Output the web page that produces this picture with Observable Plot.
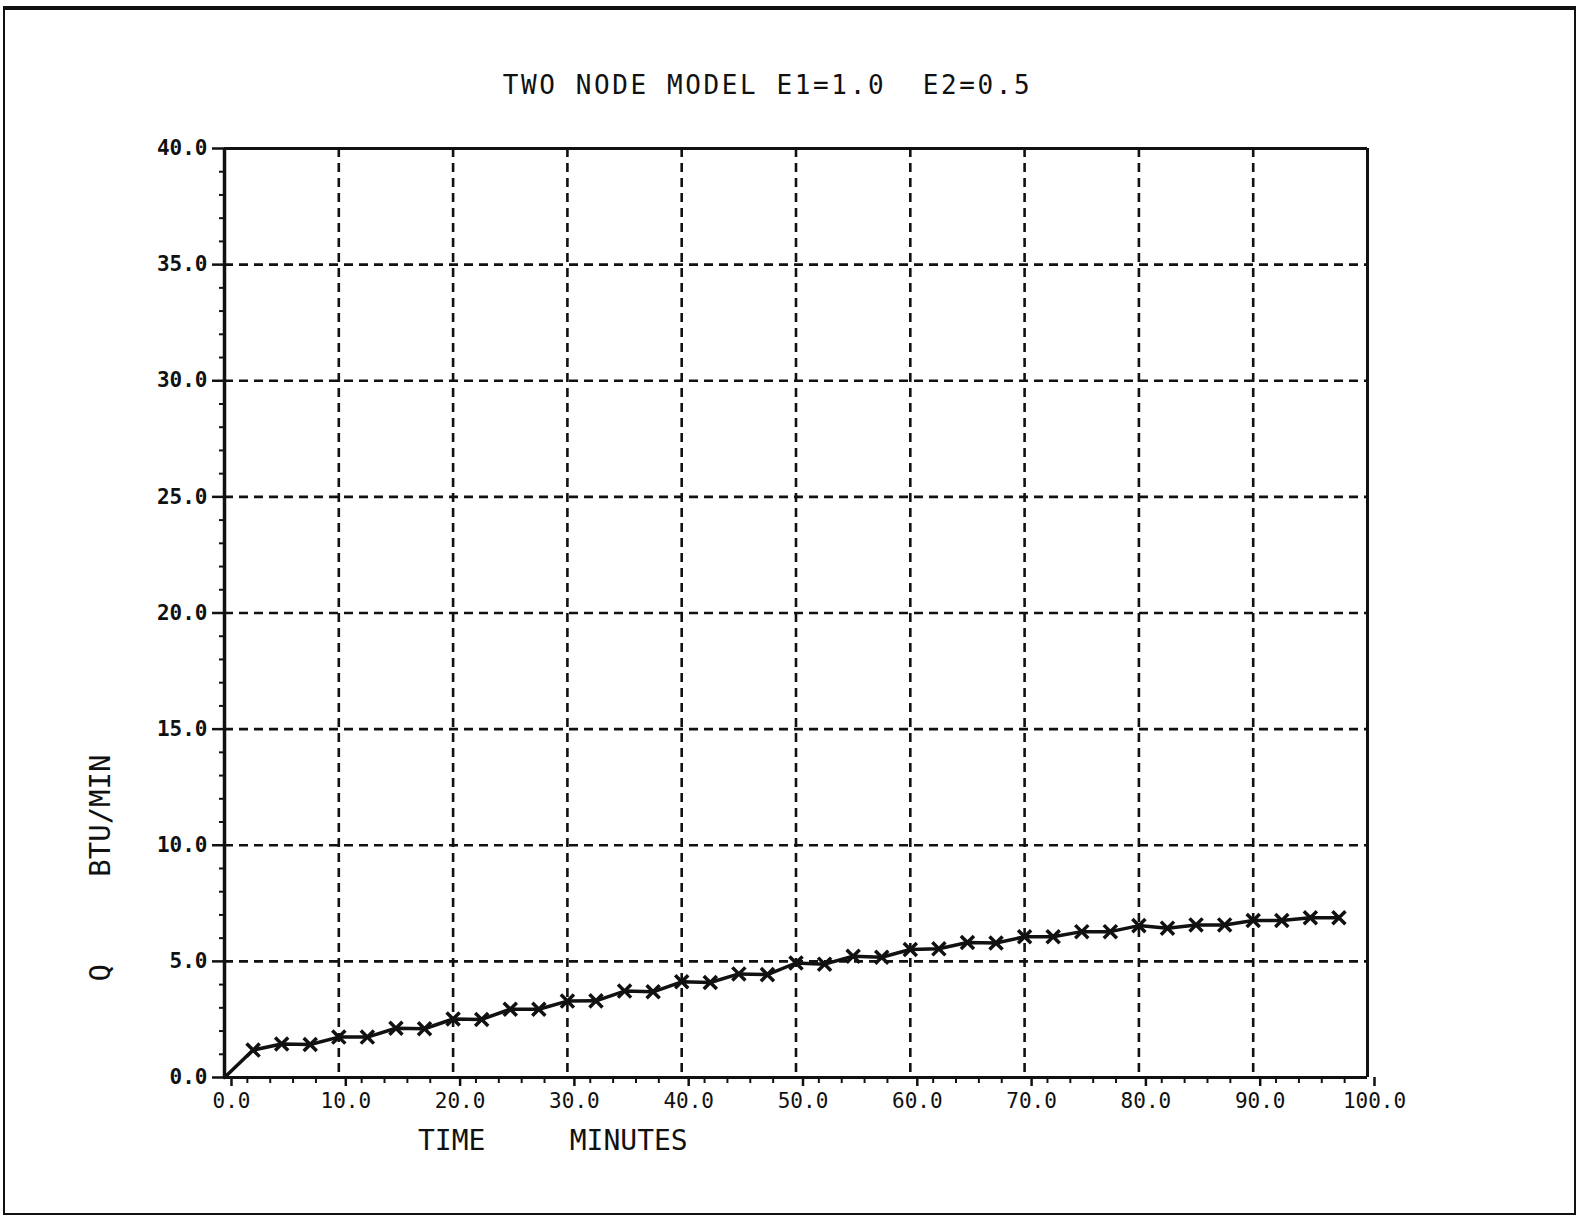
<!DOCTYPE html>
<html>
<head>
<meta charset="utf-8">
<script src="https://cdn.jsdelivr.net/npm/d3@7"></script>
<script src="https://cdn.jsdelivr.net/npm/@observablehq/plot@0.6"></script>
<style>
  html, body { margin: 0; padding: 0; background: #fff; }
  #page { position: relative; width: 1578px; height: 1217px; overflow: hidden; background: #fff; }
  #border { position: absolute; left: 3px; top: 6px; width: 1569px; height: 1203px;
            border: 2.5px solid #111; border-top-width: 4px; box-sizing: content-box; }
  #chart { position: absolute; left: 0; top: 0; }
  .lbl { position: absolute; font-family: "DejaVu Sans Mono", monospace; color: #111; white-space: pre; line-height: 1; }
  #title { left: 0; width: 1535px; text-align: center; top: 72px; font-size: 26px; letter-spacing: 2.6px; }
  #xlabel { left: 418px; top: 1127px; font-size: 28px; }
  #ylabel { left: 100px; top: 868px; font-size: 29px; transform: translate(-50%, -50%) rotate(-90deg); }
</style>
</head>
<body>
<div id="page">
  <div id="chart"></div>
  <div id="border"></div>
  <div class="lbl" id="title">TWO NODE MODEL E1=1.0  E2=0.5</div>
  <div class="lbl" id="xlabel">TIME     MINUTES</div>
  <div class="lbl" id="ylabel">Q     BTU/MIN</div>
</div>
<script>
// Data
const timeMin = [0, 2.5, 5, 7.5, 10, 12.5, 15, 17.5, 20, 22.5, 25, 27.5, 30, 32.5, 35, 37.5, 40, 42.5, 45, 47.5,
                 50, 52.5, 55, 57.5, 60, 62.5, 65, 67.5, 70, 72.5, 75, 77.5, 80, 82.5, 85, 87.5, 90, 92.5, 95, 97.5];
const qBtuMin = [0, 1.18, 1.44, 1.42, 1.74, 1.74, 2.12, 2.10, 2.52, 2.50, 2.94, 2.94, 3.29, 3.30, 3.72, 3.69, 4.12, 4.09, 4.46, 4.43,
                 4.93, 4.88, 5.22, 5.18, 5.51, 5.54, 5.81, 5.79, 6.06, 6.06, 6.28, 6.28, 6.54, 6.43, 6.57, 6.57, 6.76, 6.76, 6.88, 6.88];

const xMajor = [0, 10, 20, 30, 40, 50, 60, 70, 80, 90, 100];
const xMinor = [2, 4, 6, 8, 12, 14, 16, 18, 22, 24, 26, 28, 32, 34, 36, 38, 42, 44, 46, 48, 52, 54, 56, 58,
                62, 64, 66, 68, 72, 74, 76, 78, 82, 84, 86, 88, 92, 94, 96, 98];
const yMajor = [0, 5, 10, 15, 20, 25, 30, 35, 40];
const yMinor = [1, 2, 3, 4, 6, 7, 8, 9, 11, 12, 13, 14, 16, 17, 18, 19, 21, 22, 23, 24, 26, 27, 28, 29,
                31, 32, 33, 34, 36, 37, 38, 39];
const xGrid = [10, 20, 30, 40, 50, 60, 70, 80, 90];
const yGrid = [5, 10, 15, 20, 25, 30, 35];

const data = timeMin.map((t, i) => ({t, q: qBtuMin[i]}));
const ink = "#111";

const chart = Plot.plot({
  width: 1578,
  height: 1217,
  marginLeft: 224,
  marginRight: 211,
  marginTop: 148,
  marginBottom: 140,
  style: {fontFamily: "DejaVu Sans Mono", fontSize: "20px", background: "transparent", color: ink},
  x: {domain: [0, 100]},
  y: {domain: [0, 40]},
  marks: [
    Plot.ruleX(xGrid, {stroke: ink, strokeWidth: 2.6, strokeDasharray: "9,6"}),
    Plot.ruleY(yGrid, {stroke: ink, strokeWidth: 2.6, strokeDasharray: "9,6"}),
    Plot.axisY({ticks: yMinor, tickSize: 5, tickFormat: () => "", label: null, stroke: ink, strokeWidth: 2}),
    Plot.axisY({ticks: yMajor, tickSize: 12, tickPadding: 5, tickFormat: d => d.toFixed(1), label: null,
                fontSize: 21, fontWeight: "bold", stroke: ink, strokeWidth: 2.5}),
    Plot.axisX({ticks: xMinor, tickSize: 6, tickFormat: () => "", label: null, stroke: ink, strokeWidth: 2}),
    Plot.axisX({ticks: xMajor, tickSize: 9, tickPadding: 7, tickFormat: d => d.toFixed(1), label: null,
                fontSize: 21, dx: 7, stroke: ink, strokeWidth: 2.5}),
    Plot.ruleX([0], {stroke: ink, strokeWidth: 3.5}),
    Plot.ruleX([100], {stroke: ink, strokeWidth: 3}),
    Plot.ruleY([0], {stroke: ink, strokeWidth: 3}),
    Plot.ruleY([40], {stroke: ink, strokeWidth: 3}),
    Plot.line(data, {x: "t", y: "q", stroke: ink, strokeWidth: 3.5}),
    Plot.dot(data.filter(d => d.t > 0), {x: "t", y: "q", symbol: "times", r: 6, stroke: ink, strokeWidth: 3.5})
  ]
});
document.getElementById("chart").appendChild(chart);
</script>
</body>
</html>
